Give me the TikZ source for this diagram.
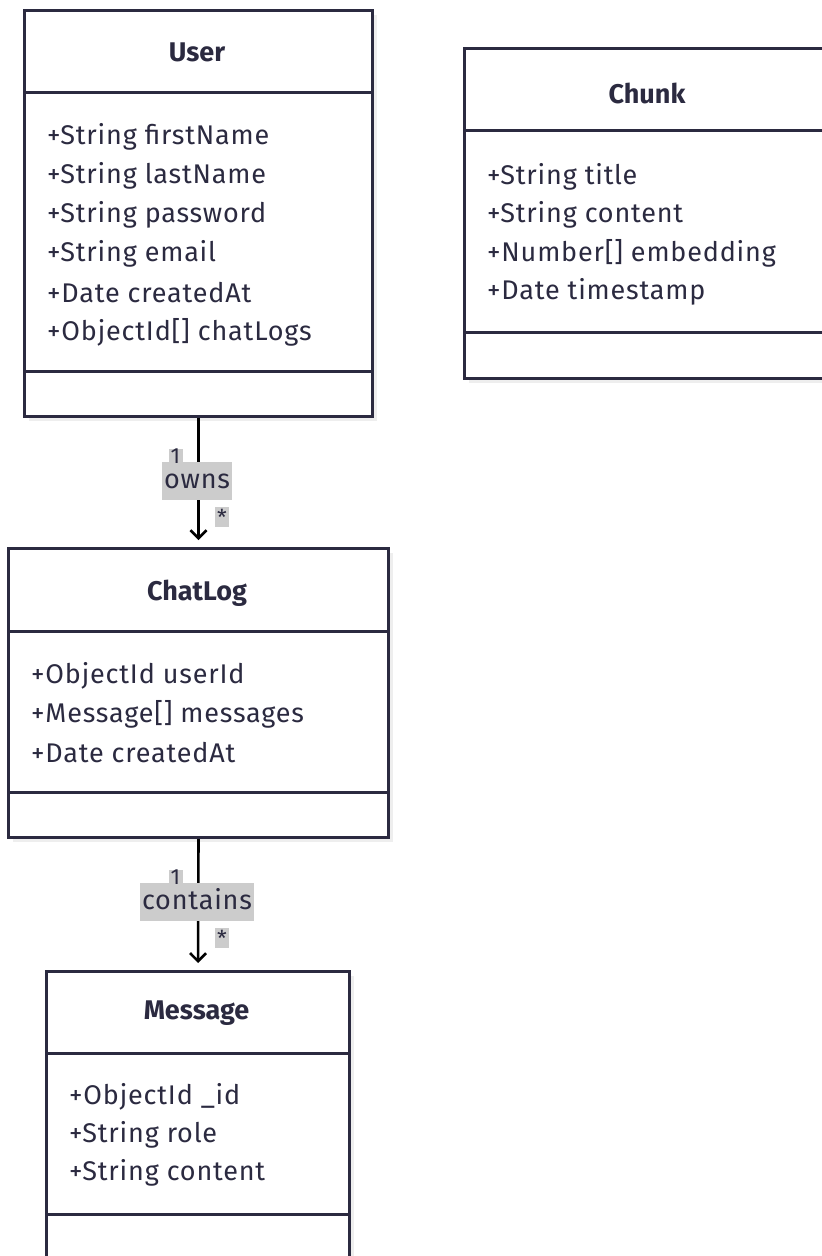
\documentclass[tikz,border=0pt]{standalone}
\usepackage{fontspec}
\setmainfont{Fira Sans}
\usetikzlibrary{arrows.meta,calc}
\definecolor{ink}{HTML}{2B2A40}
\definecolor{lbl}{HTML}{CCCCCC}
\definecolor{shade}{HTML}{EEEEEE}
\newcommand{\txtsize}{\fontsize{27}{31}\selectfont\addfontfeatures{LetterSpace=3}}
\newcommand{\multsize}{\fontsize{22}{24}\selectfont}
\tikzset{
  classbox/.style={draw=ink, line width=3pt, fill=white, anchor=north west, inner sep=0pt},
  shadowbox/.style={fill=shade, draw=none},
  sepline/.style={draw=ink, line width=3pt},
  title/.style={font=\fontsize{27}{31}\selectfont\bfseries, text=ink, anchor=center},
  attr/.style={font=\txtsize, text=ink, anchor=west, inner sep=0pt},
  assoc/.style={draw=black, line width=2.6pt, -{Straight Barb[length=8pt,width=16pt,line width=2.6pt]}, shorten >=7pt},
  rolelbl/.style={fill=lbl, text=ink, font=\txtsize, inner xsep=2pt, inner ysep=6pt, text height=20pt, text depth=6pt},
  multlbl/.style={fill=lbl, text=ink, font=\multsize, inner sep=0pt, minimum width=14pt, minimum height=15pt}
}
\begin{document}
\begin{tikzpicture}[x=1pt,y=-1pt]
\useasboundingbox[fill=white] (0,0) rectangle (822,1256);

% ---- User ----
\fill[shadowbox] (29,15) rectangle (377,421);
\node[classbox, minimum width=348pt, minimum height=406pt] (user) at (23,9) {};
\draw[sepline] (23,92) -- (371,92);
\draw[sepline] (23,371) -- (371,371);
\node[title] (userT) at (197,52) {User};
\node[attr] (u1) at (47,137) {+String firstName};
\node[attr] (u2) at (47,176) {+String lastName};
\node[attr] (u3) at (47,215) {+String password};
\node[attr] (u4) at (47,254) {+String email};
\node[attr] (u5) at (47,293) {+Date createdAt};
\node[attr] (u6) at (47,332) {+ObjectId[] chatLogs};

% ---- Chunk ----
\fill[shadowbox] (469,53) rectangle (840,383);
\node[classbox, minimum width=380pt, minimum height=330pt] (chunk) at (463,47) {};
\draw[sepline] (463,130) -- (843,130);
\draw[sepline] (463,332) -- (843,332);
\node[title] (chunkT) at (647,93) {Chunk};
\node[attr] (c1) at (487,177) {+String title};
\node[attr] (c2) at (487,215) {+String content};
\node[attr] (c3) at (487,253) {+Number[] embedding};
\node[attr] (c4) at (487,292) {+Date timestamp};

% ---- ChatLog ----
\fill[shadowbox] (13,553) rectangle (393,842);
\node[classbox, minimum width=380pt, minimum height=289pt] (chatlog) at (7,547) {};
\draw[sepline] (7,631) -- (387,631);
\draw[sepline] (7,792) -- (387,792);
\node[title] (chatlogT) at (197,593) {ChatLog};
\node[attr] (l1) at (31,676) {+ObjectId userId};
\node[attr] (l2) at (31,714) {+Message[] messages};
\node[attr] (l3) at (31,753) {+Date createdAt};

% ---- Message ----
\fill[shadowbox] (51,976) rectangle (354,1270);
\node[classbox, minimum width=303pt, minimum height=310pt] (message) at (45,970) {};
\draw[sepline] (45,1053) -- (348,1053);
\draw[sepline] (45,1214) -- (348,1214);
\node[title] (messageT) at (196.5,1013) {Message};
\node[attr] (m1) at (69,1097) {+ObjectId \_id};
\node[attr] (m2) at (69,1135) {+String role};
\node[attr] (m3) at (69,1173) {+String content};

% ---- associations ----
\draw[assoc] (user.south) -- (chatlog.north);
\node[rolelbl] (owns) at (197,481) {owns};
\node[multlbl] (owns1) at (175.5,456) {1};
\node[multlbl, minimum height=20pt] (ownsN) at (222,517) {*};

\draw[assoc] (chatlog.south) -- (message.north);
\node[rolelbl] (contains) at (197,902) {contains};
\node[multlbl] (cont1) at (175.5,877) {1};
\node[multlbl, minimum height=20pt] (contN) at (222,938) {*};
\end{tikzpicture}
\end{document}
